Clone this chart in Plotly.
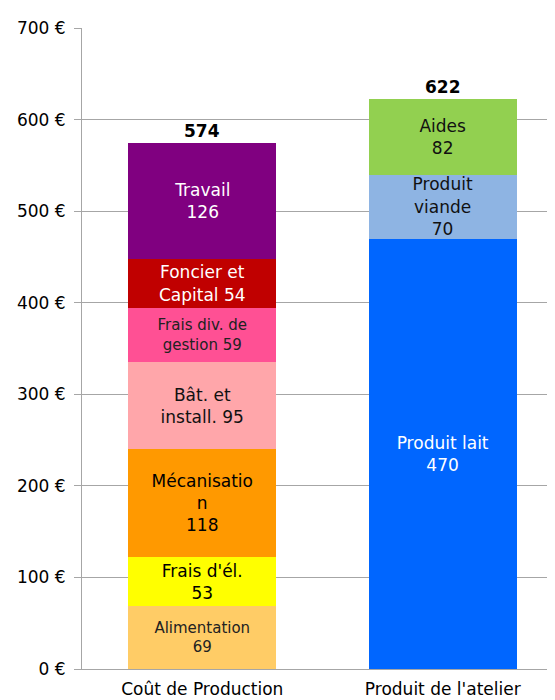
import plotly.graph_objects as go

categories = ["Coût de Production", "Produit de l'atelier"]

cost_names = ["Alimentation", "Frais d'él.", "Mécanisation", "Bât. et install.",
              "Frais div. de gestion", "Foncier et Capital", "Travail"]
cost_labels = ["Alimentation<br>69", "Frais d'él.<br>53", "Mécanisatio<br>n<br>118",
               "Bât. et<br>install. 95", "Frais div. de<br>gestion 59",
               "Foncier et<br>Capital 54", "Travail<br>126"]
cost_values = [69, 53, 118, 95, 59, 54, 126]
cost_colors = ["#FFCC66", "#FFFF00", "#FF9900", "#FFA6AA", "#FF5094", "#C00000", "#800080"]
cost_text_colors = ["#222222", "#000000", "#000000", "#111111", "#222222", "#FFFFFF", "#FFFFFF"]
cost_text_sizes = [15, 17, 17, 17, 15, 17, 17]

prod_names = ["Produit lait", "Produit viande", "Aides"]
prod_labels = ["Produit lait<br>470", "Produit<br>viande<br>70", "Aides<br>82"]
prod_values = [470, 70, 82]
prod_colors = ["#0066FF", "#8EB4E3", "#92D050"]
prod_text_colors = ["#FFFFFF", "#111111", "#111111"]
prod_text_sizes = [17, 17, 17]

y_ticks = [0, 100, 200, 300, 400, 500, 600, 700]
y_tick_labels = ["0 €", "100 €", "200 €", "300 €", "400 €", "500 €", "600 €", "700 €"]

FONT = "DejaVu Sans"
BAR_W = 0.617

fig = go.Figure()
for name, lab, v, c, tc, ts in zip(cost_names, cost_labels, cost_values, cost_colors,
                                   cost_text_colors, cost_text_sizes):
    fig.add_trace(go.Bar(x=[categories[0]], y=[v], name=name, text=[lab],
                         textposition="inside", insidetextanchor="middle",
                         constraintext="none", textangle=0,
                         textfont=dict(color=tc, size=ts, family=FONT),
                         marker=dict(color=c, line=dict(width=0)), width=BAR_W))
for name, lab, v, c, tc, ts in zip(prod_names, prod_labels, prod_values, prod_colors,
                                   prod_text_colors, prod_text_sizes):
    fig.add_trace(go.Bar(x=[categories[1]], y=[v], name=name, text=[lab],
                         textposition="inside", insidetextanchor="middle",
                         constraintext="none", textangle=0,
                         textfont=dict(color=tc, size=ts, family=FONT),
                         marker=dict(color=c, line=dict(width=0)), width=BAR_W))

totals = [sum(cost_values), sum(prod_values)]
for cat, t in zip(categories, totals):
    fig.add_annotation(x=cat, y=t, text="<b>%d</b>" % t, showarrow=False,
                       yanchor="bottom", yshift=0,
                       font=dict(size=17, color="#000000", family=FONT))

fig.update_layout(
    barmode="stack",
    width=555, height=700,
    margin=dict(l=74, r=0, t=20, b=39),
    paper_bgcolor="white", plot_bgcolor="white",
    showlegend=False,
    font=dict(family=FONT, size=16, color="#000000"),
    uniformtext=dict(mode=False),
)
fig.update_xaxes(range=[-0.5, 1.5], showgrid=False, showline=True,
                 linecolor="#A6A6A6", linewidth=1, ticks="",
                 ticklabelstandoff=5,
                 tickfont=dict(size=17, family=FONT, color="#000000"))
fig.update_yaxes(range=[0, 700], tickvals=y_ticks, ticktext=y_tick_labels,
                 showgrid=True, gridcolor="#A6A6A6", gridwidth=1,
                 showline=True, linecolor="#A6A6A6", linewidth=1,
                 ticks="outside", ticklen=7, tickcolor="#A6A6A6",
                 ticklabelstandoff=5,
                 zeroline=False,
                 tickfont=dict(size=17, family=FONT, color="#000000"))

fig.write_html("out.html")
